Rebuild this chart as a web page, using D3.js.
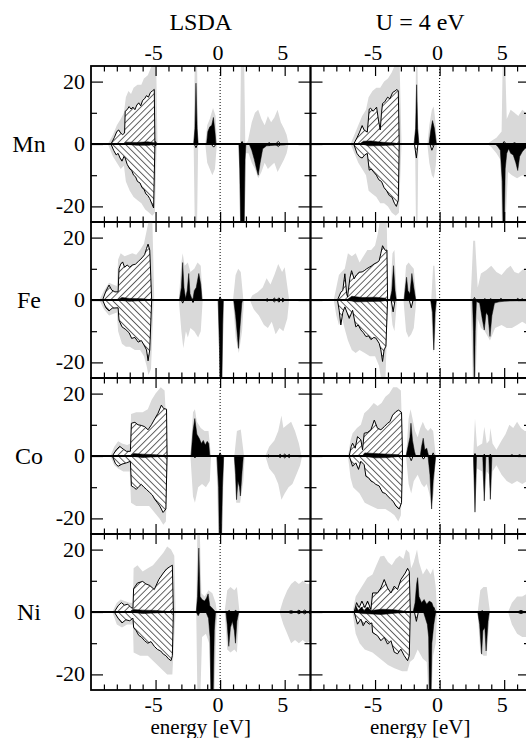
<!DOCTYPE html>
<meta charset="utf-8">
<style>
body { margin: 0; background: #fff; }
.gray { fill: #d9d9d9; stroke: none; }
.hatch { stroke: #000; stroke-width: 1; stroke-linejoin: round; }
.black { fill: #000; stroke: #000; stroke-width: 0.5; }
.tick line { stroke: #000; stroke-width: 1.2; }
</style>
<svg id="chart" width="526" height="738"></svg>
<script src="https://d3js.org/d3.v7.min.js"></script>
<script>

// rows / columns
var rows = ["Mn", "Fe", "Co", "Ni"];
var cols = ["LSDA", "U = 4 eV"];
var xMajor = [-5, 0, 5];
var xMinor = [-9, -8, -7, -6, -4, -3, -2, -1, 1, 2, 3, 4, 6];
var yMajor = [-20, 0, 20];
var yMinor = [-10, 10];
var yLabels = [20, 0, -20];

// [energy (eV), DOS] ; gray = total, hatch = O p, black = TM d

// ---- Mn, LSDA
var mnLsdaGrayUp = [[-8.7,0],[-8.3,3],[-8.0,6],[-7.7,8],[-7.45,10],[-7.3,15],[-7.1,17],[-6.9,16],[-6.7,18],[-6.4,19],[-6.1,19],[-5.9,21],[-5.6,22],[-5.4,24],[-5.2,26],[-4.95,26],[-4.85,0],
  [-2.05,0],[-1.95,30],[-1.8,30],[-1.7,0],
  [-1.15,0],[-1.0,6],[-0.8,8],[-0.55,11.5],[-0.35,9],[-0.25,0],
  [1.55,0],[1.62,30],[1.85,30],[1.95,0],[2.15,1],[2.45,7],[2.7,10],[2.95,11],[3.2,8],[3.45,6],[3.7,9],[3.95,7],[4.2,8.5],[4.45,11],[4.7,7],[4.95,5],[5.15,3],[5.3,0]];
var mnLsdaGrayDown = [[-8.7,0],[-8.3,-4],[-8.0,-6],[-7.7,-8],[-7.45,-7],[-7.3,-12],[-7.0,-15],[-6.7,-17],[-6.4,-18],[-6.1,-19],[-5.8,-21],[-5.5,-22],[-5.25,-23],[-5.05,-22],[-4.9,0],
  [-2.05,0],[-1.95,-30],[-1.8,-30],[-1.7,0],
  [-1.15,0],[-1.0,-6],[-0.8,-8],[-0.6,-10],[-0.4,-8],[-0.25,0],
  [1.45,0],[1.6,-30],[1.9,-30],[2.0,-3],[2.2,-3],[2.45,-6],[2.7,-8],[2.95,-11],[3.2,-9],[3.45,-6],[3.7,-8],[3.95,-7],[4.2,-6],[4.45,-9],[4.7,-7],[4.95,-5],[5.15,-3],[5.3,0]];
var mnLsdaHatchUp = [[-8.45,0],[-8.2,2],[-8.0,4],[-7.85,4.5],[-7.7,3.5],[-7.55,3],[-7.4,3.5],[-7.35,10.5],[-7.2,11],[-7.05,12],[-6.9,11.2],[-6.75,11.8],[-6.6,11],[-6.45,12.5],[-6.3,13.2],[-6.15,12.2],[-6.0,14],[-5.85,14.5],[-5.7,15.5],[-5.55,15],[-5.4,16.5],[-5.25,17],[-5.1,17.5],[-5.05,0],[-5.0,0.8],[-4.9,0],
  [1.6,0],[1.7,0.8],[1.8,0],[3.7,0],[3.8,0.5],[3.9,0],[4.3,0],[4.5,0.8],[4.7,0]];
var mnLsdaHatchDown = [[-8.45,0],[-8.25,-2],[-8.05,-3.5],[-7.9,-3],[-7.75,-4.5],[-7.6,-5.5],[-7.45,-4],[-7.35,-4.5],[-7.2,-6.5],[-7.0,-8],[-6.85,-8.5],[-6.7,-10],[-6.55,-10.5],[-6.4,-12],[-6.2,-12.5],[-6.05,-14],[-5.9,-14.5],[-5.75,-16],[-5.6,-16.5],[-5.45,-17.5],[-5.3,-19],[-5.15,-20.5],[-5.05,0],[-5.0,-0.6],[-4.9,0],
  [-2.0,0],[-1.87,-1.2],[-1.75,0],[-0.7,0],[-0.5,-1],[-0.3,0],
  [3.7,0],[3.8,-0.5],[3.9,0],[4.3,0],[4.5,-0.8],[4.7,0]];
var mnLsdaBlackUp = [[-7.5,0],[-7.3,0.6],[-6.5,0.5],[-5.6,0.7],[-5.1,0.4],[-5.0,0],
  [-2.05,0],[-1.95,5],[-1.87,19.5],[-1.78,5],[-1.7,0],
  [-1.05,0],[-0.95,4],[-0.8,5.5],[-0.65,6],[-0.52,8.5],[-0.4,4],[-0.32,0]];
var mnLsdaBlackDown = [[-7.5,0],[-6.5,-0.4],[-5.5,-0.4],[-5.0,0],
  [1.45,0],[1.52,-8],[1.6,-30],[1.85,-30],[1.93,-5],[2.0,0],
  [2.25,0],[2.45,-2],[2.65,-5],[2.82,-8],[2.95,-10],[3.1,-6],[3.3,-1.5],[3.6,-0.6],[4.2,-0.4],[5.0,-0.3],[5.3,0]];

// ---- Mn, U = 4 eV
var mnUGrayUp = [[-6.9,0],[-6.6,3],[-6.3,6],[-6.0,9],[-5.7,11],[-5.5,15],[-5.2,17],[-4.9,18],[-4.6,18],[-4.3,20],[-4.0,21],[-3.7,23],[-3.4,26],[-3.1,26],[-2.95,0],
  [-1.9,0],[-1.82,30],[-1.72,30],[-1.65,0],
  [-0.95,0],[-0.8,6],[-0.6,11],[-0.45,12],[-0.3,6],[-0.2,0],
  [3.7,0],[4.0,1],[4.4,2],[4.8,4],[4.9,30],[5.05,30],[5.2,8],[5.5,11],[5.8,10],[6.1,9],[6.4,11],[6.7,10],[7.2,10]];
var mnUGrayDown = [[-6.9,0],[-6.6,-3],[-6.3,-6],[-6.0,-8],[-5.7,-10],[-5.5,-15],[-5.2,-16],[-4.9,-17],[-4.6,-19],[-4.3,-19],[-4.0,-20],[-3.7,-22],[-3.4,-23],[-3.15,-22],[-2.95,0],
  [-1.9,0],[-1.82,-30],[-1.72,-30],[-1.65,0],
  [-0.95,0],[-0.8,-6],[-0.6,-10],[-0.45,-11],[-0.3,-7],[-0.2,0],
  [3.7,0],[4.0,-1],[4.4,-3],[4.7,-5],[4.85,-30],[5.05,-30],[5.3,-9],[5.6,-10],[6.0,-11],[6.4,-10],[6.8,-11],[7.2,-11]];
var mnUHatchUp = [[-6.65,0],[-6.4,2],[-6.2,3.8],[-6.0,5.9],[-5.85,4.5],[-5.6,3.8],[-5.45,11.2],[-5.35,11.5],[-5.15,10.5],[-5.0,11.2],[-4.88,11.8],[-4.75,8],[-4.6,4.5],[-4.5,10],[-4.42,13],[-4.25,13.5],[-4.03,15],[-3.85,14.5],[-3.64,16.5],[-3.45,17],[-3.3,17.5],[-3.2,17],[-3.13,0],
  [4.85,0],[5.0,0.8],[5.15,0],[5.6,0],[5.8,0.4],[6.0,0]];
var mnUHatchDown = [[-6.65,0],[-6.4,-3],[-6.2,-4.1],[-6.0,-4.5],[-5.8,-3.5],[-5.6,-3],[-5.45,-8.4],[-5.3,-8],[-5.1,-9],[-4.9,-10],[-4.7,-11.5],[-4.5,-12],[-4.3,-14],[-4.1,-15],[-3.9,-16.5],[-3.7,-17],[-3.5,-19],[-3.35,-20],[-3.2,-18],[-3.13,0],
  [-1.95,0],[-1.8,-4.5],[-1.68,0],[-0.75,0],[-0.6,-2],[-0.4,0]];
var mnUBlackUp = [[-6.2,0],[-5.9,0.9],[-5.3,1],[-4.8,0.7],[-4.2,0.5],[-3.5,0.3],[-3.15,0],
  [-1.98,0],[-1.86,5],[-1.78,19],[-1.7,5],[-1.6,0],
  [-0.82,0],[-0.7,4],[-0.55,7.5],[-0.4,5],[-0.25,0]];
var mnUBlackDown = [[-6.0,0],[-5.5,-0.6],[-4.5,-0.5],[-3.5,-0.3],[-3.15,0],
  [4.3,0],[4.5,-0.8],[4.7,-2],[4.85,-12],[4.93,-30],[5.0,-30],[5.08,-8],[5.2,-3],[5.35,-1.5],[5.5,-3],[5.7,-3.5],[5.9,-6],[6.05,-8.5],[6.2,-4],[6.4,-2.5],[6.6,-1.5],[6.8,-1],[7.2,-0.8]];

// ---- Fe, LSDA
var feLsdaGrayUp = [[-9.35,0],[-9.0,3],[-8.6,5.5],[-8.3,5],[-8.0,4.5],[-7.9,13],[-7.7,15],[-7.4,14],[-7.1,14.5],[-6.8,15],[-6.5,14.5],[-6.2,16],[-5.9,18],[-5.7,22],[-5.5,26],[-5.25,26],[-5.1,0],
  [-3.2,0],[-3.0,12],[-2.9,15],[-2.75,11],[-2.5,12],[-2.3,9],[-2.0,10],[-1.75,12],[-1.5,11],[-1.35,0],
  [1.0,0],[1.2,8],[1.4,10],[1.6,9],[1.8,0],
  [2.3,0],[2.5,1.5],[2.9,2.5],[3.3,4],[3.6,7],[3.9,5],[4.2,8],[4.5,11.5],[4.8,9],[5.0,10.5],[5.25,3],[5.35,0]];
var feLsdaGrayDown = [[-9.35,0],[-9.0,-3],[-8.6,-5],[-8.0,-4],[-7.9,-10],[-7.6,-14],[-7.3,-15],[-7.0,-15],[-6.6,-16],[-6.2,-16],[-5.9,-18],[-5.7,-21],[-5.55,-24],[-5.35,-22],[-5.15,0],
  [-3.2,0],[-3.0,-10],[-2.85,-15.5],[-2.65,-10],[-2.5,-12],[-2.3,-9],[-2.0,-10],[-1.7,-12],[-1.5,-10],[-1.35,0],
  [-0.2,0],[0,-30],[0.15,-30],[0.3,0],
  [1.0,0],[1.2,-12],[1.45,-17],[1.7,-10],[1.85,0],
  [2.3,0],[2.6,-3],[3.0,-5],[3.4,-8],[3.7,-9],[4.0,-7],[4.3,-11],[4.6,-9],[4.9,-10],[5.2,-6],[5.35,0]];
var feLsdaHatchUp = [[-9.1,0],[-8.85,2.8],[-8.6,4.8],[-8.4,3.2],[-8.15,2.6],[-7.9,2.6],[-7.83,10],[-7.7,11.5],[-7.55,12.2],[-7.4,10.5],[-7.2,11.2],[-7.0,10.5],[-6.8,11.2],[-6.55,11.5],[-6.3,12.5],[-6.05,13.5],[-5.85,14.5],[-5.7,16.5],[-5.58,17.9],[-5.45,16],[-5.3,0],
  [-0.1,0],[0.0,1],[0.1,0],
  [3.5,0],[3.65,0.4],[3.8,0],[4.05,0],[4.2,0.6],[4.35,0],[4.4,0],[4.55,0.7],[4.7,0],[4.75,0],[4.85,0.6],[5.0,0]];
var feLsdaHatchDown = [[-9.1,0],[-8.85,-2.5],[-8.6,-3.5],[-8.35,-2.6],[-7.9,-2.5],[-7.83,-6.5],[-7.6,-8.6],[-7.3,-9.5],[-7.05,-10.5],[-6.85,-12.3],[-6.6,-12],[-6.35,-13.5],[-6.1,-13],[-5.9,-14.4],[-5.7,-16],[-5.58,-19.5],[-5.45,-16],[-5.3,0],
  [-3.0,0],[-2.9,-1],[-2.8,0],[-2.2,0],[-2.1,-0.8],[-2.0,0],
  [3.5,0],[3.65,-0.4],[3.8,0],[4.05,0],[4.2,-0.6],[4.35,0],[4.4,0],[4.55,-0.7],[4.7,0],[4.75,0],[4.85,-0.6],[5.0,0]];
var feLsdaBlackUp = [[-8.0,0],[-7.6,0.8],[-7.0,0.5],[-6.0,0.4],[-5.3,0],
  [-3.15,0],[-3.0,4],[-2.9,12],[-2.8,4],[-2.68,0.5],[-2.55,3],[-2.43,8.5],[-2.33,2],[-2.2,0.5],[-2.1,0.3],[-2.0,3],[-1.85,4],[-1.65,8.5],[-1.5,5],[-1.4,0]];
var feLsdaBlackDown = [[-8.0,0],[-7.0,-0.4],[-5.3,0],
  [-0.15,0],[-0.05,-15],[0.0,-30],[0.12,-30],[0.2,-8],[0.25,0],
  [1.05,0],[1.2,-5],[1.35,-12],[1.42,-15.5],[1.55,-8],[1.68,-1],[1.75,0]];

// ---- Fe, U = 4 eV
var feUGrayUp = [[-8.2,0],[-8.0,4],[-7.8,8],[-7.6,9],[-7.35,10],[-7.1,15],[-6.8,14],[-6.5,15],[-6.2,12],[-5.9,14],[-5.6,16],[-5.3,16],[-5.0,17.5],[-4.8,21],[-4.6,26],[-4.1,26],[-3.98,0],
  [-3.85,0],[-3.65,15],[-3.5,16],[-3.3,0],
  [-2.8,0],[-2.6,11],[-2.4,12],[-2.2,11],[-2.0,10],[-1.8,0],
  [-0.65,0],[-0.5,11],[-0.4,11],[-0.25,0],
  [2.4,0],[2.6,19],[2.75,19],[2.95,4],[3.2,8.5],[3.6,9.5],[4.0,11],[4.4,9],[4.8,8],[5.2,10],[5.5,11],[5.8,9],[6.1,8.5],[6.5,10],[6.8,9],[7.2,9]];
var feUGrayDown = [[-8.2,0],[-8.0,-5],[-7.8,-8],[-7.55,-6],[-7.3,-10],[-7.1,-13],[-6.8,-16],[-6.5,-17],[-6.2,-16],[-5.8,-17],[-5.4,-18],[-5.0,-18],[-4.7,-21],[-4.5,-26],[-4.2,-26],[-4.0,0],
  [-3.85,0],[-3.65,-8],[-3.5,-10],[-3.3,0],
  [-2.8,0],[-2.6,-10],[-2.4,-12],[-2.2,-11],[-2.0,-9],[-1.8,0],
  [-0.7,0],[-0.55,-12],[-0.45,-17],[-0.35,-12],[-0.2,0],
  [2.4,0],[2.6,-30],[2.75,-30],[2.95,-6],[3.2,-9],[3.5,-10],[3.9,-13],[4.3,-9],[4.8,-8],[5.2,-9],[5.6,-9],[6.0,-8],[6.4,-7],[6.8,-8],[7.2,-8]];
var feUHatchUp = [[-7.91,0],[-7.65,2.5],[-7.5,3],[-7.34,8.4],[-7.2,2],[-7.13,1],[-6.95,7],[-6.82,9.4],[-6.62,6.8],[-6.45,8],[-6.23,8.9],[-6.0,9],[-5.84,9.4],[-5.65,10],[-5.45,10.5],[-5.25,11],[-5.06,11.6],[-4.85,12],[-4.68,12.6],[-4.55,15],[-4.42,17.4],[-4.21,15.9],[-4.08,16],[-4.03,0],
  [2.6,0],[2.7,0.8],[2.8,0],[3.35,0],[3.5,0.4],[3.65,0],[3.8,0],[3.95,0.4],[4.1,0],[4.6,0],[4.75,0.5],[4.9,0],[5.9,0],[6.05,0.5],[6.2,0],[6.25,0],[6.4,0.4],[6.55,0]];
var feUHatchDown = [[-7.91,0],[-7.78,-3.3],[-7.65,-8],[-7.5,-4],[-7.34,-2.2],[-7.0,-5.9],[-6.74,-3.3],[-6.49,-8.6],[-6.3,-8],[-6.1,-9.6],[-5.9,-10.5],[-5.71,-11.7],[-5.5,-11.5],[-5.32,-12.7],[-5.1,-12],[-4.94,-12.2],[-4.68,-13.9],[-4.55,-16],[-4.42,-19.7],[-4.3,-16],[-4.16,-14.8],[-4.03,0],
  [-3.75,0],[-3.6,-3.8],[-3.45,0],[-2.35,0],[-2.2,-2.5],[-2.05,0]];
var feUBlackUp = [[-7.2,0],[-6.8,1.2],[-6.0,0.8],[-5.0,0.9],[-4.2,0.6],[-4.03,0],
  [-3.85,0],[-3.7,3],[-3.57,11],[-3.45,3],[-3.35,0],
  [-2.75,0],[-2.65,4],[-2.56,7.3],[-2.45,3],[-2.3,2],[-2.15,8.5],[-2.0,4],[-1.85,0]];
var feUBlackDown = [[-7.2,0],[-6.5,-0.6],[-5.5,-0.5],[-4.5,-0.4],[-4.03,0],
  [-0.7,0],[-0.55,-4],[-0.45,-16],[-0.35,-4],[-0.25,0],
  [2.55,0],[2.62,-10],[2.69,-30],[2.76,-10],[2.85,-0.5],[3.1,-1],[3.3,-6],[3.46,-9.6],[3.6,-4],[3.75,-5],[3.9,-11.7],[4.05,-5],[4.25,-1],[4.6,-0.6],[5.0,-0.4],[5.5,-0.3],[6.5,-0.2],[7.2,-0.2]];

// ---- Co, LSDA
var coLsdaGrayUp = [[-8.5,0],[-8.2,3],[-7.9,4.7],[-7.6,4],[-7.2,3.5],[-6.95,4],[-6.9,13.5],[-6.5,14],[-6.0,14],[-5.6,15],[-5.3,18],[-5.0,20],[-4.6,22],[-4.3,21],[-4.05,0],
  [-2.3,0],[-2.1,14],[-1.95,15],[-1.8,11],[-1.5,9],[-1.2,8],[-0.9,8],[-0.7,0],
  [1.1,0],[1.3,8],[1.6,8.5],[1.85,0],
  [3.5,0],[3.8,3],[4.2,5],[4.5,8],[4.75,13],[4.9,9],[5.2,10],[5.5,11],[5.8,8],[6.1,4],[6.3,0]];
var coLsdaGrayDown = [[-8.5,0],[-8.2,-3],[-7.9,-4],[-7.5,-5],[-7.0,-5],[-6.9,-15],[-6.5,-16],[-6.0,-16],[-5.5,-16],[-5.1,-18],[-4.7,-20],[-4.4,-22],[-4.2,-21],[-4.05,0],
  [-2.3,0],[-2.1,-13],[-1.95,-15],[-1.7,-10],[-1.4,-9],[-1.1,-10],[-0.8,-8],[-0.7,0],
  [-0.3,0],[-0.1,-30],[0.15,-30],[0.3,0],
  [1.05,0],[1.25,-15],[1.55,-15],[1.8,-8],[1.9,0],
  [3.5,0],[3.8,-4],[4.2,-6],[4.5,-9],[4.75,-14],[5.0,-12],[5.3,-10],[5.6,-9],[5.9,-6],[6.2,-3],[6.35,0]];
var coLsdaHatchUp = [[-8.35,0],[-8.04,2],[-7.78,3.1],[-7.5,2.2],[-7.26,1.5],[-6.95,1.5],[-6.87,10.5],[-6.6,10.8],[-6.36,10],[-6.1,9.8],[-5.84,9.4],[-5.58,8.4],[-5.32,10],[-5.05,12],[-4.81,13.7],[-4.55,16.3],[-4.37,15.2],[-4.15,15],[-4.11,0],
  [-0.1,0],[0.0,1],[0.1,0],
  [3.6,0],[3.75,0.3],[3.9,0],[4.5,0],[4.65,0.5],[4.8,0],[4.85,0],[5.0,0.6],[5.15,0],[5.2,0],[5.35,0.5],[5.5,0]];
var coLsdaHatchDown = [[-8.35,0],[-8.1,-2.5],[-7.9,-3.3],[-7.6,-2.6],[-7.26,-2.2],[-6.95,-1.7],[-6.87,-9.6],[-6.7,-10],[-6.49,-10.7],[-6.3,-9.8],[-6.1,-9.1],[-5.9,-10],[-5.71,-10.7],[-5.45,-11.7],[-5.25,-12.5],[-5.06,-13.9],[-4.85,-15],[-4.68,-16],[-4.55,-17],[-4.42,-18.1],[-4.2,-17],[-4.11,0],
  [-2.05,0],[-1.95,-0.6],[-1.85,0],
  [3.6,0],[3.75,-0.3],[3.9,0],[4.5,0],[4.65,-0.5],[4.8,0],[4.85,0],[5.0,-0.6],[5.15,0],[5.2,0],[5.35,-0.5],[5.5,0]];
var coLsdaBlackUp = [[-7.0,0],[-6.7,0.8],[-6.0,0.6],[-5.0,0.4],[-4.1,0],
  [-2.25,0],[-2.1,8],[-1.96,12],[-1.8,7],[-1.6,5.5],[-1.45,4],[-1.3,5],[-1.15,3.5],[-1.0,4.7],[-0.88,4],[-0.8,0]];
var coLsdaBlackDown = [[-7.0,0],[-6.0,-0.5],[-4.1,0],
  [-0.25,0],[-0.12,-10],[-0.05,-30],[0.08,-30],[0.18,-10],[0.28,0],
  [1.1,0],[1.2,-6],[1.27,-14],[1.38,-8],[1.5,-10],[1.57,-12.8],[1.7,-5],[1.8,0]];

// ---- Co, U = 4 eV
var coUGrayUp = [[-7.1,0],[-6.9,5],[-6.74,7.3],[-6.4,9],[-6.1,10],[-5.84,13.7],[-5.5,15],[-5.1,17],[-4.8,16],[-4.5,17],[-4.2,19],[-3.9,20],[-3.6,22],[-3.3,22],[-3.0,21],[-2.85,0],
  [-2.6,0],[-2.4,12],[-2.25,15],[-2.1,12],[-1.9,8],[-1.7,6],[-1.5,9],[-1.3,11],[-1.1,9],[-0.9,8],[-0.7,9],[-0.5,8],[-0.3,0],
  [2.6,0],[2.74,12],[2.9,3],[3.3,4],[3.46,9.4],[3.65,4],[3.85,5],[3.93,9],[4.1,4],[4.4,2],[4.8,5],[5.1,7],[5.4,10],[5.7,9],[6.0,11],[6.3,9],[6.6,8],[7.2,8]];
var coUGrayDown = [[-7.1,0],[-6.9,-7],[-6.7,-10],[-6.2,-12],[-5.8,-15],[-5.3,-16],[-4.8,-17],[-4.2,-17],[-3.8,-18],[-3.5,-19],[-3.2,-21],[-3.0,-19],[-2.85,0],
  [-2.6,0],[-2.4,-9],[-2.2,-12],[-2.0,-8],[-1.7,-6],[-1.4,-9],[-1.2,-10],[-1.0,-9],[-0.8,-12],[-0.62,-16],[-0.45,-12],[-0.3,0],
  [2.6,0],[2.74,-18],[2.9,-4],[3.3,-5],[3.46,-14.5],[3.65,-5],[3.85,-6],[3.93,-14],[4.1,-5],[4.4,-3],[4.8,-6],[5.2,-8],[5.6,-9],[6.0,-8],[6.4,-9],[6.8,-8],[7.2,-8]];
var coUHatchUp = [[-7.0,0],[-6.85,3],[-6.74,4.1],[-6.54,2.5],[-6.36,6.2],[-6.1,5.2],[-5.97,2],[-5.84,7.3],[-5.6,7.5],[-5.32,8.4],[-5.06,11.5],[-4.81,8.9],[-4.55,8.4],[-4.29,9.4],[-4.03,10.5],[-3.85,11],[-3.64,13.1],[-3.39,14.2],[-3.18,14.7],[-2.95,14],[-2.87,0],
  [-0.6,0],[-0.5,1],[-0.4,0],
  [2.65,0],[2.74,0.8],[2.83,0],[3.38,0],[3.46,0.6],[3.54,0],[3.85,0],[3.93,0.6],[4.01,0],
  [5.4,0],[5.6,0.4],[5.8,0],[6.0,0],[6.2,0.4],[6.4,0]];
var coUHatchDown = [[-7.0,0],[-6.74,-3.3],[-6.49,-2.2],[-6.28,-4.3],[-6.1,-1.7],[-5.84,-2.8],[-5.71,-6.5],[-5.5,-7],[-5.32,-8],[-5.1,-8.5],[-4.94,-9.1],[-4.68,-9.6],[-4.42,-11.7],[-4.2,-12],[-4.03,-12.8],[-3.77,-13.9],[-3.6,-14.5],[-3.39,-16],[-3.13,-17],[-2.95,-15],[-2.87,0],
  [-2.35,0],[-2.2,-1.5],[-2.05,0],[-1.4,0],[-1.25,-1],[-1.1,0]];
var coUBlackUp = [[-6.0,0],[-5.8,1.0],[-5.0,0.8],[-4.0,0.6],[-3.2,0.4],[-2.87,0],
  [-2.6,0],[-2.45,3],[-2.3,6],[-2.22,10.5],[-2.1,5],[-1.95,1.5],[-1.85,0],
  [-1.5,0],[-1.4,3],[-1.27,5.7],[-1.15,2],[-1.0,2.5],[-0.85,0]];
var coUBlackDown = [[-6.0,0],[-5.0,-0.6],[-4.0,-0.5],[-2.87,0],
  [-0.9,0],[-0.75,-6],[-0.62,-17],[-0.5,-8],[-0.3,0],
  [2.62,0],[2.74,-18],[2.86,0],[3.34,0],[3.46,-14.4],[3.58,0],[3.81,0],[3.93,-13.9],[4.05,0]];

// ---- Ni, LSDA
var niLsdaGrayUp = [[-8.35,0],[-8.0,3],[-7.7,4],[-7.4,3.5],[-7.0,3],[-6.75,3],[-6.7,14],[-6.4,15],[-6.0,13],[-5.6,14],[-5.2,15],[-4.8,17],[-4.4,19],[-4.1,21],[-3.8,20],[-3.55,18],[-3.45,0],
  [-1.85,0],[-1.75,30],[-1.6,30],[-1.45,6],[-1.2,5],[-0.9,7],[-0.6,6],[-0.35,3],[-0.25,0],
  [0.35,0],[0.55,7],[0.8,8],[1.1,7],[1.3,8],[1.5,0],
  [4.6,0],[4.9,4],[5.2,7],[5.5,9],[5.8,10],[6.1,9],[6.4,10],[6.7,9],[7.1,9]];
var niLsdaGrayDown = [[-8.35,0],[-8.0,-4],[-7.6,-5],[-7.2,-4],[-6.75,-4],[-6.7,-13],[-6.2,-14],[-5.6,-14],[-5.1,-16],[-4.6,-18],[-4.1,-20],[-3.7,-20],[-3.45,0],
  [-1.85,0],[-1.75,-30],[-1.55,-30],[-1.4,-8],[-1.1,-7],[-0.85,-10],[-0.7,-30],[-0.45,-30],[-0.3,-5],[-0.2,0],
  [0.35,0],[0.55,-12],[0.8,-13],[1.1,-12],[1.3,-13],[1.5,0],
  [4.6,0],[4.9,-4],[5.2,-7],[5.5,-10],[5.8,-9],[6.1,-10],[6.4,-9],[6.7,-10],[7.1,-9]];
var niLsdaHatchUp = [[-8.2,0],[-7.9,2],[-7.65,3],[-7.4,2.2],[-7.15,2.5],[-6.9,1.4],[-6.75,1.2],[-6.7,7.5],[-6.4,9.3],[-6.0,9.8],[-5.75,9],[-5.45,8.5],[-5.1,7.2],[-4.75,10.4],[-4.4,12.5],[-4.15,13.8],[-3.9,14.5],[-3.7,15],[-3.62,0],
  [0.55,0],[0.7,0.5],[0.85,0],[1.05,0],[1.2,0.5],[1.35,0],
  [5.2,0],[5.5,0.4],[5.8,0],[5.9,0],[6.1,0.6],[6.3,0],[6.35,0],[6.55,0.6],[6.75,0],[6.8,0],[6.95,0.5],[7.1,0.5]];
var niLsdaHatchDown = [[-8.2,0],[-7.9,-2],[-7.6,-3.5],[-7.3,-2.5],[-7.0,-2.8],[-6.75,-2],[-6.7,-5],[-6.5,-6],[-6.3,-7.5],[-6.1,-8],[-5.85,-9.2],[-5.6,-10],[-5.35,-9.5],[-5.1,-11],[-4.85,-12],[-4.6,-12.5],[-4.4,-13.5],[-4.2,-14],[-4.0,-15],[-3.8,-15.6],[-3.7,-14],[-3.62,0],
  [5.2,0],[5.5,-0.4],[5.8,0],[5.9,0],[6.1,-0.6],[6.3,0],[6.35,0],[6.55,-0.6],[6.75,0],[6.8,0],[6.95,-0.5],[7.1,-0.5]];
var niLsdaBlackUp = [[-7.0,0],[-6.7,0.8],[-6.0,0.6],[-5.0,0.5],[-3.62,0],
  [-1.85,0],[-1.75,5],[-1.65,20.5],[-1.55,5],[-1.4,4],[-1.2,3.5],[-1.05,4.5],[-0.93,5.8],[-0.8,2],[-0.55,1],[-0.35,0]];
var niLsdaBlackDown = [[-7.0,0],[-6.0,-0.5],[-3.62,0],
  [-1.85,0],[-1.7,-1.2],[-1.55,0],
  [-1.1,0],[-0.9,-2],[-0.78,-8],[-0.7,-30],[-0.55,-30],[-0.45,-6],[-0.35,0],
  [0.45,0],[0.55,-4],[0.67,-11],[0.8,-5],[0.95,-3],[1.1,-6],[1.19,-10],[1.3,-3],[1.45,0]];

// ---- Ni, U = 4 eV
var niUGrayUp = [[-6.75,0],[-6.5,5],[-6.2,7],[-5.9,9],[-5.6,11],[-5.2,12],[-4.9,15],[-4.6,17.8],[-4.3,18],[-4.0,16],[-3.7,15],[-3.4,17],[-3.1,18],[-2.8,17],[-2.6,20],[-2.35,19],[-2.2,14],[-2.0,16],[-1.75,20],[-1.6,16],[-1.3,12],[-1.0,14],[-0.7,12],[-0.5,14],[-0.3,8],[-0.2,0],
  [2.95,0],[3.15,7],[3.4,8],[3.65,8],[3.9,0],
  [5.3,0],[5.6,3],[6.0,5],[6.4,5],[6.8,6],[7.2,6]];
var niUGrayDown = [[-6.75,0],[-6.5,-7],[-6.2,-10],[-5.8,-12],[-5.2,-13],[-4.6,-15],[-4.0,-17],[-3.5,-18],[-2.9,-19],[-2.5,-19],[-2.3,-16],[-2.0,-15],[-1.7,-12],[-1.3,-15],[-1.0,-16],[-0.82,-30],[-0.65,-30],[-0.5,-14],[-0.3,-10],[-0.2,0],
  [2.95,0],[3.15,-13],[3.4,-14],[3.65,-14],[3.9,0],
  [5.3,0],[5.6,-4],[6.0,-7],[6.4,-8],[6.8,-8],[7.2,-7]];
var niUHatchUp = [[-6.62,0],[-6.43,3],[-6.23,1.4],[-6.02,3.5],[-5.79,1.4],[-5.58,3.5],[-5.32,0.8],[-5.19,6.1],[-4.81,6.1],[-4.55,7.7],[-4.29,10.4],[-4.03,7.7],[-3.77,6.1],[-3.51,8.3],[-3.26,7.2],[-3.0,10.4],[-2.66,12.5],[-2.48,14],[-2.35,13],[-2.27,0],
  [-0.6,0],[-0.45,1.5],[-0.3,0],[3.15,0],[3.3,0.4],[3.45,0],
  [6.0,0],[6.3,0.5],[6.6,0],[6.65,0],[6.9,0.5],[7.2,0.5]];
var niUHatchDown = [[-6.62,0],[-6.36,-3.9],[-6.1,-2.3],[-5.92,-4.4],[-5.71,-2.9],[-5.45,-3.9],[-5.25,-3.5],[-5.19,-6.6],[-4.81,-7.6],[-4.55,-9.2],[-4.29,-8.1],[-4.03,-10.3],[-3.77,-9.2],[-3.51,-12.9],[-3.26,-13.4],[-3.0,-11.9],[-2.74,-14],[-2.48,-15.6],[-2.35,-14],[-2.27,0],
  [-1.95,0],[-1.8,-3],[-1.65,0],
  [6.0,0],[6.3,-0.5],[6.6,0],[6.65,0],[6.9,-0.5],[7.2,-0.5]];
var niUBlackUp = [[-6.6,0],[-6.45,1.6],[-6.3,0.5],[-6.05,1.6],[-5.85,0.5],[-5.6,1.6],[-5.3,0.5],[-4.5,0.9],[-3.5,0.7],[-2.27,0],
  [-2.05,0],[-1.9,3],[-1.78,9],[-1.7,11],[-1.6,5],[-1.4,3],[-1.2,4],[-1.0,2.5],[-0.8,3.5],[-0.6,3],[-0.35,0]];
var niUBlackDown = [[-6.6,0],[-6.0,-0.5],[-4.5,-0.8],[-3.5,-0.4],[-2.27,0],
  [-1.25,0],[-1.1,-2],[-0.95,-4],[-0.85,-8],[-0.78,-30],[-0.68,-30],[-0.6,-10],[-0.45,-4],[-0.3,0],
  [2.95,0],[3.1,-4],[3.25,-13.5],[3.35,-6],[3.5,-5],[3.6,-12.5],[3.75,-3],[3.85,0]];

// table of panels built from the arrays above
var panels = [
  [0, 0, mnLsdaGrayUp, mnLsdaGrayDown, mnLsdaHatchUp, mnLsdaHatchDown, mnLsdaBlackUp, mnLsdaBlackDown],
  [0, 1, mnUGrayUp, mnUGrayDown, mnUHatchUp, mnUHatchDown, mnUBlackUp, mnUBlackDown],
  [1, 0, feLsdaGrayUp, feLsdaGrayDown, feLsdaHatchUp, feLsdaHatchDown, feLsdaBlackUp, feLsdaBlackDown],
  [1, 1, feUGrayUp, feUGrayDown, feUHatchUp, feUHatchDown, feUBlackUp, feUBlackDown],
  [2, 0, coLsdaGrayUp, coLsdaGrayDown, coLsdaHatchUp, coLsdaHatchDown, coLsdaBlackUp, coLsdaBlackDown],
  [2, 1, coUGrayUp, coUGrayDown, coUHatchUp, coUHatchDown, coUBlackUp, coUBlackDown],
  [3, 0, niLsdaGrayUp, niLsdaGrayDown, niLsdaHatchUp, niLsdaHatchDown, niLsdaBlackUp, niLsdaBlackDown],
  [3, 1, niUGrayUp, niUGrayDown, niUHatchUp, niUHatchDown, niUBlackUp, niUBlackDown]
];

var top0 = 66, panelH = 156;
var colX = [[91, 310.5], [310.5, 530]];
var serif = "'Liberation Serif', 'Times New Roman', Times, serif";

var svg = d3.select("#chart");
var defs = svg.append("defs");

function hatchPattern(id, angle) {
  var p = defs.append("pattern")
    .attr("id", id)
    .attr("patternUnits", "userSpaceOnUse")
    .attr("width", 4.6).attr("height", 10)
    .attr("patternTransform", "rotate(" + angle + ")");
  p.append("rect").attr("width", 4.6).attr("height", 10).attr("fill", "#fff");
  p.append("line").attr("x1", 0.5).attr("x2", 0.5).attr("y1", 0).attr("y2", 10)
    .attr("stroke", "#333").attr("stroke-width", 0.8);
}
hatchPattern("hUp", 45);
hatchPattern("hDown", -45);

function xScale(c) { return d3.scaleLinear().domain([-10, 7]).range(colX[c]); }
function yScale(r) { return d3.scaleLinear().domain([-25, 25]).range([top0 + (r + 1) * panelH, top0 + r * panelH]); }

function label(x, y, txt, size, anchor) {
  return svg.append("text")
    .attr("x", x).attr("y", y)
    .attr("text-anchor", anchor || "middle")
    .attr("font-family", serif)
    .attr("font-size", size)
    .attr("fill", "#000")
    .text(txt);
}

panels.forEach(function(p, i) {
  var r = p[0], c = p[1];
  var x = xScale(c), y = yScale(r);
  var cid = "clip" + i;
  defs.append("clipPath").attr("id", cid).append("rect")
    .attr("x", x.range()[0]).attr("y", y.range()[1])
    .attr("width", x.range()[1] - x.range()[0]).attr("height", panelH);

  var area = d3.area().x(function(d) { return x(d[0]); }).y0(y(0)).y1(function(d) { return y(d[1]); });
  var g = svg.append("g").attr("clip-path", "url(#" + cid + ")");

  g.append("path").datum(p[2]).attr("class", "gray").attr("d", area);
  g.append("path").datum(p[3]).attr("class", "gray").attr("d", area);
  g.append("path").datum(p[4]).attr("class", "hatch").attr("fill", "url(#hUp)").attr("d", area);
  g.append("path").datum(p[5]).attr("class", "hatch").attr("fill", "url(#hDown)").attr("d", area);

  g.append("line")
    .attr("x1", x(0)).attr("x2", x(0))
    .attr("y1", y.range()[1]).attr("y2", y.range()[0])
    .attr("stroke", "#000").attr("stroke-width", 1).attr("stroke-dasharray", "1,2");

  g.append("path").datum(p[6]).attr("class", "black").attr("d", area);
  g.append("path").datum(p[7]).attr("class", "black").attr("d", area);

  g.append("line")
    .attr("x1", x.range()[0]).attr("x2", x.range()[1])
    .attr("y1", y(0)).attr("y2", y(0))
    .attr("stroke", "#000").attr("stroke-width", 1.8);

  // inward ticks on all four sides
  function noDomain(sel) { sel.select(".domain").remove(); }
  var tk = svg.append("g");
  [[xMinor, 5.5], [xMajor, 10]].forEach(function(t) {
    tk.append("g").attr("transform", "translate(0," + y.range()[1] + ")")
      .call(d3.axisBottom(x).tickValues(t[0]).tickSize(t[1]).tickFormat("")).call(noDomain);
    tk.append("g").attr("transform", "translate(0," + y.range()[0] + ")")
      .call(d3.axisTop(x).tickValues(t[0]).tickSize(t[1]).tickFormat("")).call(noDomain);
  });
  [[yMinor, 6], [yMajor, 12]].forEach(function(t) {
    tk.append("g").attr("transform", "translate(" + x.range()[0] + ",0)")
      .call(d3.axisRight(y).tickValues(t[0]).tickSize(t[1]).tickFormat("")).call(noDomain);
    tk.append("g").attr("transform", "translate(" + x.range()[1] + ",0)")
      .call(d3.axisLeft(y).tickValues(t[0]).tickSize(t[1]).tickFormat("")).call(noDomain);
  });

  svg.append("rect")
    .attr("x", x.range()[0]).attr("y", y.range()[1])
    .attr("width", x.range()[1] - x.range()[0]).attr("height", panelH)
    .attr("fill", "none").attr("stroke", "#000").attr("stroke-width", 1.8);
});

// column titles, energy tick labels
cols.forEach(function(name, c) {
  var x = xScale(c);
  var mid = (colX[c][0] + colX[c][1]) / 2;
  label(mid, 30, name, 24);
  xMajor.forEach(function(v) {
    label(x(v) - 2, 60, String(v), 22);
    label(x(v) - 2, 712, String(v), 22);
  });
  label(mid, 734, "energy [eV]", 21);
});

// row labels and DOS tick labels
rows.forEach(function(name, r) {
  var y = yScale(r);
  label(29, y(0) + 8, name, 24);
  yLabels.forEach(function(v) {
    label(85, y(v) + 7, String(v), 22, "end");
  });
});
</script>
